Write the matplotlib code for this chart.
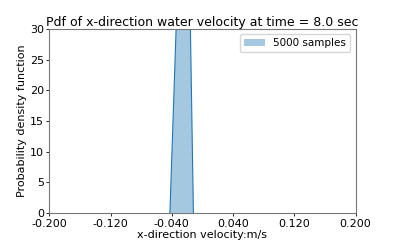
import numpy as np
import matplotlib
matplotlib.use('Agg')
from matplotlib import pyplot as plt

# density outline (peak is clipped by the y limit)
vel = [-0.0425, -0.0344, -0.025, -0.0157, -0.0118]
pdf = [0.0, 30.0, 70.0, 30.0, 0.0]
label = '5000 samples'

xticks = [-0.2, -0.12, -0.04, 0.04, 0.12, 0.2]
yticks = [0, 5, 10, 15, 20, 25, 30]

plt.rcParams['axes.unicode_minus'] = False
fs = 8

fig = plt.figure(figsize=(3.95, 2.4), dpi=100)
ax = fig.add_subplot(111)
ax.fill_between(vel, pdf, color='C0', alpha=0.4, linewidth=0, label=label)
ax.plot(vel, pdf, color='C0', lw=0.8)

ax.set_xlim(-0.2, 0.2)
ax.set_ylim(0, 30)
ax.set_xticks(xticks)
ax.set_xticklabels(['%.3f' % t for t in xticks])
ax.set_yticks(yticks)
ax.tick_params(labelsize=fs, length=2.5, width=0.6, pad=1.5)
for s in ax.spines.values():
    s.set_linewidth(0.8)
    s.set_color('#777777')

ax.set_title('Pdf of x-direction water velocity at time = 8.0 sec', fontsize=fs + 1, pad=2)
ax.set_xlabel('x-direction velocity:m/s', fontsize=fs, labelpad=1)
ax.set_ylabel('Probability density function', fontsize=fs, labelpad=2)
ax.legend(fontsize=fs - 0.5, loc='upper right')

fig.subplots_adjust(left=0.125, right=0.9, bottom=0.112, top=0.88)
fig.savefig('out.png', dpi=100)
